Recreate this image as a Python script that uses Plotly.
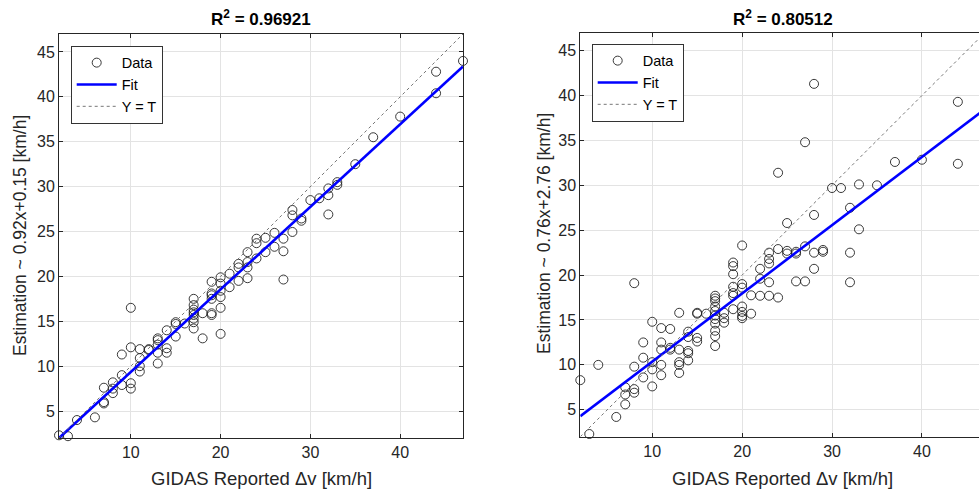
import plotly.graph_objects as go

# ---------------- data ----------------
left_x = [2, 3, 4, 6, 7, 7, 7, 8, 8, 8, 9, 9, 9, 10, 10, 10, 10, 11, 11, 11, 11, 12, 12,
          13, 13, 13, 13, 13, 14, 14, 14, 15, 15, 15, 16, 17, 17, 17, 17, 17, 17, 17, 17,
          18, 18, 19, 19, 19, 19, 19, 19, 20, 20, 20, 20, 20, 20, 21, 21, 22, 22, 22,
          23, 23, 23, 23, 24, 24, 24, 25, 25, 26, 26, 27, 27, 27, 28, 28, 28, 29, 29,
          30, 31, 32, 32, 32, 33, 33, 35, 37, 40, 44, 44, 47]
left_y = [2.3, 2.2, 4.0, 4.3, 5.85, 6.0, 7.6, 8.2, 7.5, 7.0, 9.0, 11.3, 7.9, 16.5, 12.1, 8.1, 7.5,
          11.9, 10.9, 10.0, 9.4, 11.8, 11.9, 13.1, 12.9, 11.5, 10.3, 12.4, 14.0, 12.0, 11.5,
          14.9, 14.7, 13.3, 14.75, 17.5, 16.8, 16.3, 15.7, 15.3, 14.9, 14.2, 16.0,
          15.9, 13.1, 19.4, 18.1, 17.9, 15.9, 15.7, 17.5, 19.9, 19.2, 17.7, 16.5, 13.6, 18.4,
          20.3, 18.8, 21.4, 21.0, 19.5, 22.7, 21.6, 21.0, 19.8, 24.2, 23.7, 22.0, 24.3, 22.7,
          24.85, 23.3, 24.2, 22.8, 19.65, 27.4, 26.8, 24.95, 26.45, 26.2, 28.5, 28.7,
          29.8, 29.05, 26.9, 30.5, 30.2, 32.5, 35.5, 37.8, 42.8, 40.4, 44.0]

right_x = [2, 3, 4, 6, 7, 7, 7, 8, 8, 8, 8, 9, 9, 9, 10, 10, 10, 10, 11, 11, 11, 11, 11,
           12, 12, 12, 13, 13, 13, 13, 13, 14, 14, 14, 14, 14, 15, 15, 15, 15, 16,
           17, 17, 17, 17, 17, 17, 17, 17, 17, 17, 17, 18, 18, 18,
           19, 19, 19, 19, 19, 19, 19, 20, 20, 20, 20, 20, 20, 20, 21, 21, 22, 22, 22,
           23, 23, 23, 23, 23, 24, 24, 24, 25, 25, 25, 26, 26, 26, 27, 27, 27,
           28, 28, 28, 28, 29, 29, 30, 31, 32, 32, 32, 33, 33, 35, 37, 40, 44, 44]
right_y = [8.3, 2.3, 10.0, 4.2, 7.5, 6.7, 5.6, 19.1, 9.8, 7.3, 6.9, 12.5, 10.8, 8.6,
           14.8, 10.3, 9.5, 7.6, 14.1, 12.5, 11.7, 10.0, 8.85, 14.0, 11.9, 11.7,
           15.8, 11.7, 10.3, 10.0, 9.1, 13.7, 13.1, 11.55, 11.3, 10.5, 15.8, 15.7, 13.0, 12.6, 15.7,
           17.7, 17.4, 17.1, 16.5, 16.0, 15.5, 15.1, 14.6, 13.8, 13.2, 12.1, 15.8, 15.2, 14.7,
           21.4, 21.0, 20.1, 18.7, 18.0, 17.7, 16.2, 23.3, 19.0, 18.6, 16.5, 15.9, 15.45, 15.2,
           17.75, 15.7, 20.7, 19.6, 17.7, 22.5, 21.8, 21.3, 19.2, 17.7, 31.4, 22.9, 17.5,
           25.8, 22.7, 22.4, 22.6, 22.4, 19.3, 34.8, 23.2, 19.3,
           41.3, 26.7, 22.5, 20.7, 22.8, 22.6, 29.7, 29.7, 27.5, 22.5, 19.2, 30.1, 25.1,
           30.0, 32.6, 32.85, 39.3, 32.4]

left_fit = (0.92, 0.15)
right_fit = (0.76, 2.76)
left_title = "<b>R<sup>2</sup> = 0.96921</b>"
right_title = "<b>R<sup>2</sup> = 0.80512</b>"
left_ylabel = "Estimation ~ 0.92x+0.15 [km/h]"
right_ylabel = "Estimation ~ 0.76x+2.76 [km/h]"
xlabel = "GIDAS Reported \u0394v [km/h]"
line_x = [2, 47]
xticks = [10, 20, 30, 40]
yticks = [5, 10, 15, 20, 25, 30, 35, 40, 45]

FONT = "Liberation Sans, Arial, sans-serif"
W, H = 979, 491

fig = go.Figure()


def add_panel(xs, ys, fit, xa, ya, legend):
    fig.add_trace(go.Scatter(x=xs, y=ys, mode="markers", name="Data", xaxis=xa, yaxis=ya,
                             legend=legend, cliponaxis=False,
                             marker=dict(symbol="circle-open", size=9, color="#222222",
                                         line=dict(width=0.9, color="#222222"))))
    m, b = fit
    fig.add_trace(go.Scatter(x=line_x, y=[m * v + b for v in line_x], mode="lines", name="Fit",
                             xaxis=xa, yaxis=ya, legend=legend,
                             line=dict(color="#0000ff", width=2.6)))
    fig.add_trace(go.Scatter(x=line_x, y=line_x, mode="lines", name="Y = T",
                             xaxis=xa, yaxis=ya, legend=legend,
                             line=dict(color="#666666", width=0.9, dash="3px,3px")))


add_panel(left_x, left_y, left_fit, "x", "y", "legend")
add_panel(right_x, right_y, right_fit, "x2", "y2", "legend2")

axis_common = dict(showgrid=True, gridcolor="#e3e3e3", gridwidth=1, zeroline=False,
                   showline=True, linecolor="#262626", linewidth=1, ticks="inside",
                   ticklen=4, tickcolor="#262626",
                   tickfont=dict(family=FONT, size=16, color="#262626"))

L = (59, 463, 34, 438)
R = (580.3, 979, 32.7, 436.7)

legend_common = dict(xanchor="left", yanchor="top", bgcolor="white", bordercolor="#333333",
                     borderwidth=1, font=dict(family=FONT, size=14.5, color="#000000"),
                     itemwidth=40, tracegroupgap=0)

fig.update_layout(
    width=W, height=H, autosize=False,
    margin=dict(l=0, r=0, t=0, b=0),
    paper_bgcolor="white", plot_bgcolor="white",
    font=dict(family=FONT, color="#262626"),
    xaxis=dict(axis_common, domain=[L[0] / W, L[1] / W], range=[2, 47], tickvals=xticks,
               mirror="ticks", anchor="y"),
    yaxis=dict(axis_common, domain=[1 - L[3] / H, 1 - L[2] / H], range=[2, 47], tickvals=yticks,
               mirror="ticks", anchor="x"),
    xaxis2=dict(axis_common, domain=[R[0] / W, 1.0], range=[2, 46.35], tickvals=xticks,
                mirror="ticks", anchor="y2"),
    yaxis2=dict(axis_common, domain=[1 - R[3] / H, 1 - R[2] / H], range=[2, 47], tickvals=yticks,
                mirror=False, anchor="x2"),
    legend=dict(legend_common, x=70.7 / W, y=1 - 45.7 / H),
    legend2=dict(legend_common, x=591.7 / W, y=1 - 43.7 / H),
    showlegend=True,
)

annos = [
    dict(text=left_title, x=(L[0] + L[1]) / 2 / W, y=1 - 18 / H),
    dict(text=right_title, x=(R[0] + 985) / 2 / W, y=1 - 18 / H),
    dict(text=xlabel, x=(L[0] + L[1]) / 2 / W, y=1 - 478 / H, font=dict(size=18.5, color="#262626", family=FONT)),
    dict(text=xlabel, x=(R[0] + 985) / 2 / W, y=1 - 478 / H, font=dict(size=18.5, color="#262626", family=FONT)),
    dict(text=left_ylabel, x=20 / W, y=1 - 236 / H, textangle=-90, font=dict(size=17.5, color="#262626", family=FONT)),
    dict(text=right_ylabel, x=544 / W, y=1 - 234 / H, textangle=-90, font=dict(size=17.5, color="#262626", family=FONT)),
]
for a in annos:
    a.setdefault("font", dict(size=17, color="#000000", family=FONT))
    fig.add_annotation(xref="paper", yref="paper", xanchor="center", yanchor="middle",
                       showarrow=False, **a)

fig.write_html("out.html")
